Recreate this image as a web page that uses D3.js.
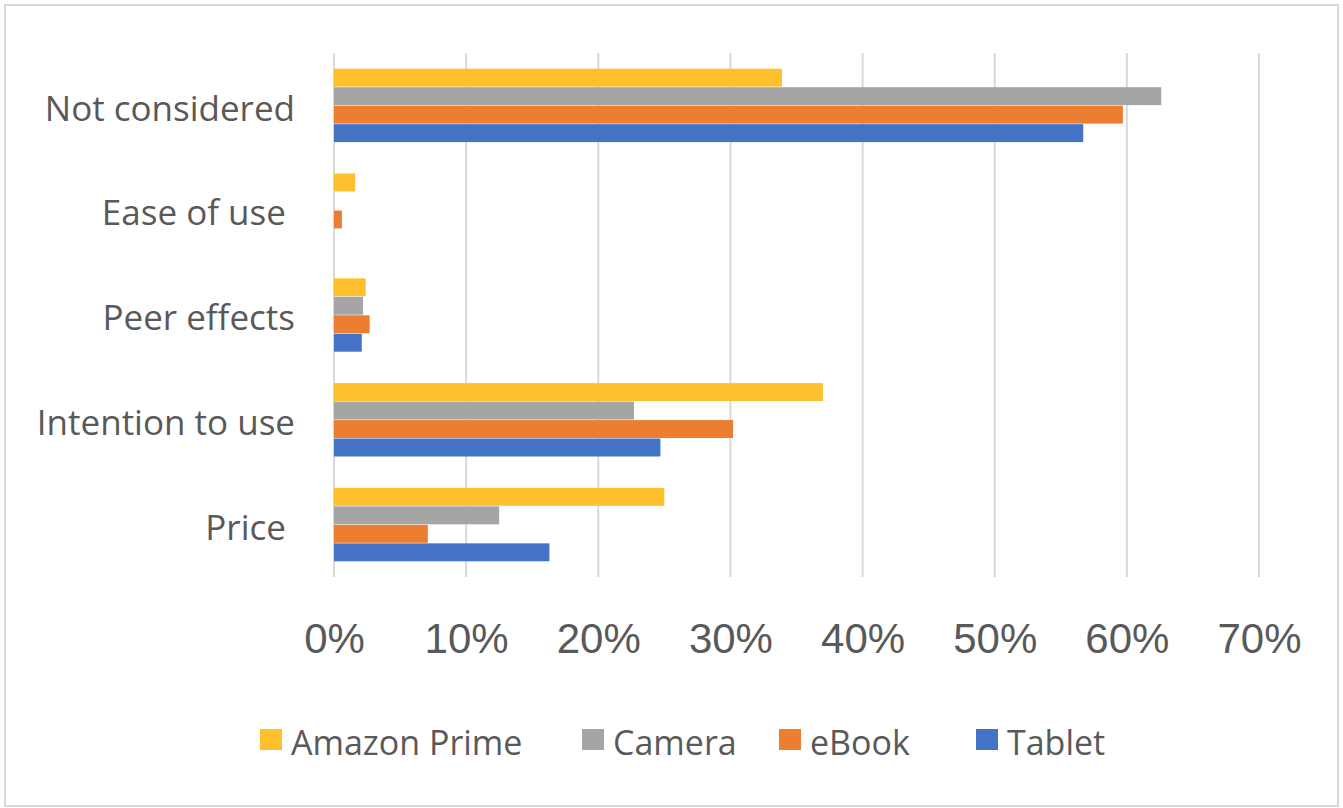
<!DOCTYPE html>
<html>
<head>
<meta charset="utf-8">
<script src="https://cdn.jsdelivr.net/npm/d3@7/dist/d3.min.js"></script>
<style>
  html, body { margin: 0; padding: 0; background: #fff; }
  svg { display: block; }
</style>
</head>
<body>
<svg id="chart" width="1343" height="808"></svg>
<script>
// Factors considered, share of respondents per product
const categories = ["Not considered", "Ease of use ", "Peer effects", "Intention to use", "Price "];
const seriesNames = ["Amazon Prime", "Camera", "eBook", "Tablet"];
const amazonPrime = [0.339, 0.016, 0.024, 0.370, 0.250];
const camera      = [0.626, 0.000, 0.022, 0.227, 0.125];
const ebook       = [0.597, 0.006, 0.027, 0.302, 0.071];
const tablet      = [0.567, 0.000, 0.021, 0.247, 0.163];
const tickValues  = [0, 0.1, 0.2, 0.3, 0.4, 0.5, 0.6, 0.7];
const colors      = ["#FFC02D", "#A5A5A5", "#ED7D31", "#4472C4"];

const series = [amazonPrime, camera, ebook, tablet];

const svg = d3.select("#chart");
const W = 1343, H = 808;

// outer frame
svg.append("rect")
  .attr("x", 5).attr("y", 5)
  .attr("width", W - 10).attr("height", H - 7)
  .attr("fill", "#fff").attr("stroke", "#d9d9d9").attr("stroke-width", 2);

const x = d3.scaleLinear().domain([0, 0.7]).range([334, 1259]);
const y = d3.scaleBand().domain(categories).range([53, 577]).paddingInner(0).paddingOuter(0);
const inner = d3.scaleBand().domain(seriesNames)
  .range([0, y.bandwidth()]).paddingInner(0.03).paddingOuter(0.85);

// vertical gridlines
svg.append("g").selectAll("line").data(tickValues).join("line")
  .attr("x1", d => x(d)).attr("x2", d => x(d))
  .attr("y1", 53).attr("y2", 577)
  .attr("stroke", "#d9d9d9").attr("stroke-width", 2);

// bars
const groups = svg.append("g").selectAll("g").data(categories).join("g")
  .attr("transform", c => `translate(0,${y(c)})`);
groups.selectAll("rect")
  .data((c, i) => seriesNames.map((s, j) => ({ s, j, v: series[j][i] })))
  .join("rect")
  .attr("x", x(0))
  .attr("y", d => inner(d.s))
  .attr("width", d => x(d.v) - x(0))
  .attr("height", inner.bandwidth())
  .attr("fill", d => colors[d.j]);

// x axis tick labels
const xAxis = d3.axisBottom(x).tickValues(tickValues).tickFormat(d3.format(".0%")).tickSize(0).tickPadding(0);
const gx = svg.append("g").attr("transform", "translate(0,623)").call(xAxis);
gx.select(".domain").remove();
gx.selectAll("text")
  .attr("dy", "0.71em")
  .attr("fill", "#595959")
  .style("font-family", "'Liberation Sans', Arial, sans-serif")
  .style("font-size", "42px");

// category labels
const yAxis = d3.axisLeft(y).tickSize(0).tickPadding(0);
const gy = svg.append("g").attr("transform", "translate(295,4)").call(yAxis);
gy.select(".domain").remove();
gy.selectAll("text")
  .attr("fill", "#595959")
  .style("white-space", "pre")
  .style("font-family", "'Open Sans', sans-serif")
  .style("font-size", "35px");

// legend
const legendX = [260, 582, 779, 976];
const legend = svg.append("g").selectAll("g").data(seriesNames).join("g")
  .attr("transform", (d, i) => `translate(${legendX[i]},729)`);
legend.append("rect").attr("width", 22).attr("height", 21).attr("fill", (d, i) => colors[i]);
legend.append("text")
  .attr("x", 31).attr("y", 14).attr("dy", "0.36em")
  .attr("fill", "#595959")
  .style("font-family", "'Open Sans', sans-serif")
  .style("font-size", "34px")
  .text(d => d);
</script>
</body>
</html>
